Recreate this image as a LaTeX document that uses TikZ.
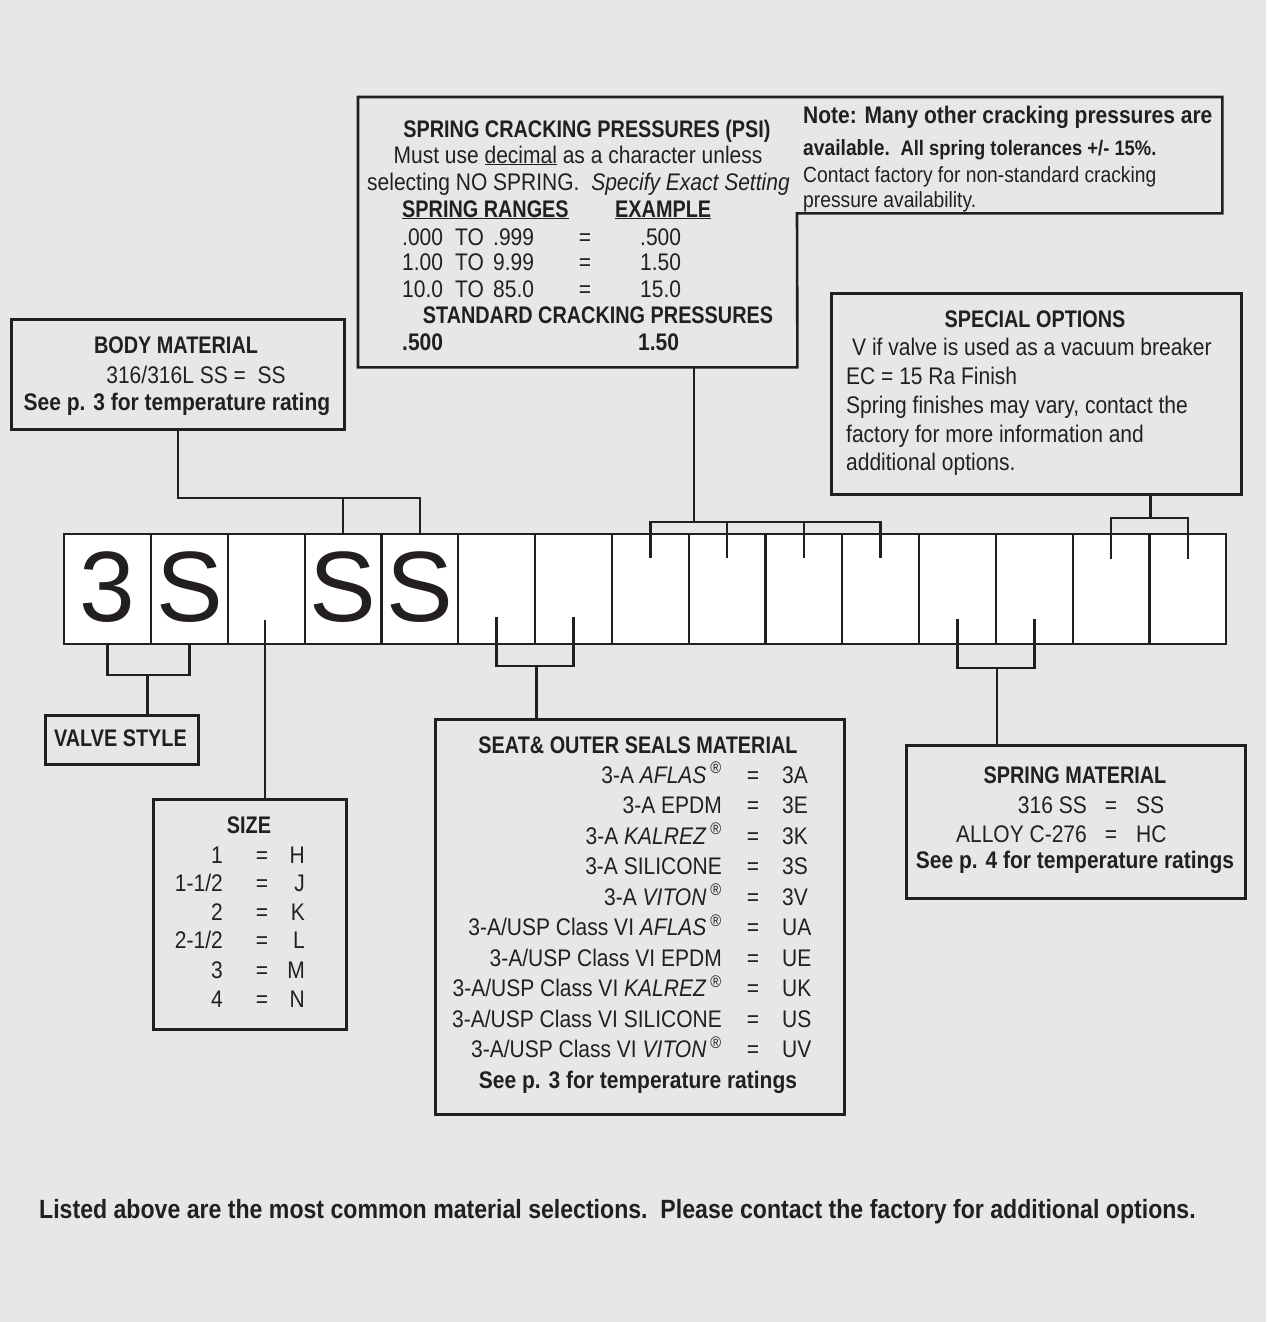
\documentclass[tikz,border=0pt]{standalone}
\usepackage{fontspec}
\setmainfont{Liberation Sans}[FakeStretch=0.875]
\newfontfamily\bigfont{Liberation Sans}
\newfontfamily\capfont{Liberation Sans}[FakeStretch=0.827]
\definecolor{bg}{HTML}{E6E7E8}
\definecolor{ink}{HTML}{231F20}
\begin{document}
\begin{tikzpicture}[x=1pt,y=-1pt,
  box/.style={draw=ink,line width=2.6pt,inner sep=0pt,anchor=north west},
  cell/.style={draw=ink,fill=white,line width=2.2pt,inner sep=0pt,minimum width=76.8pt,minimum height=110pt},
  conn/.style={draw=ink,line width=2.6pt},
  txt/.style={inner sep=0pt,text=ink,font=\fontsize{24}{28}\selectfont},
  btxt/.style={txt,font=\fontsize{24}{28}\selectfont\bfseries},
  ctxt/.style={txt,font=\capfont\fontsize{24}{28}\selectfont\bfseries},
  big/.style={inner sep=0pt,text=ink,anchor=base,font=\bigfont\fontsize{100}{100}\selectfont}]
\fill[bg] (0,0) rectangle (1266,1322);
\useasboundingbox (0,0) rectangle (1266,1322);

% ---------- code cells ----------
\node[cell,minimum width=87pt,anchor=north west] (c1) at (63,533) {};
\foreach \i [evaluate=\i as \x using 150+(\i-2)*76.8] in {2,...,15}
  \node[cell,anchor=north west] (c\i) at (\x,533) {};
\coordinate (lb) at (0,621);
\node[big] (l1) at (c1 |- lb) {3};
\node[big] (l2) at (c2 |- lb) {S};
\node[big] (l4) at (c4 |- lb) {S};
\node[big] (l5) at (c5 |- lb) {S};

% ---------- boxes ----------
\node[box,minimum width=333pt,minimum height=110pt] (body) at (10,318) {};
\node[inner sep=0pt,minimum width=439pt,minimum height=270pt,anchor=north west] (spring) at (358,97) {};
\node[inner sep=0pt,minimum width=425pt,minimum height=116pt,anchor=north west] (note) at (797,97) {};
\draw[conn,line join=miter] (spring.north west) -- (note.north east) -- (note.south east) -- (note.south west) -- (spring.south east) -- (spring.south west) -- cycle;
\node[box,minimum width=410pt,minimum height=201pt] (special) at (830,292) {};
\node[box,minimum width=153pt,minimum height=49pt] (valve) at (44,714) {};
\node[box,minimum width=193pt,minimum height=230pt] (size) at (152,798) {};
\node[box,minimum width=409pt,minimum height=395pt] (seat) at (434,718) {};
\node[box,minimum width=339pt,minimum height=153pt] (smat) at (905,744) {};

% ---------- connectors ----------
% body material
\coordinate (bmbar) at (0,498);
\draw[conn] (body.south) |- (c5 |- bmbar) -- (c5.north);
\draw[conn] (c4 |- bmbar) -- (c4.north);
% valve style
\coordinate (vbar) at (0,675);
\draw[conn] (c1.south) |- (c2 |- vbar) -- (c2.south);
\coordinate (vmid) at (147.5,675);
\draw[conn] (vmid) -- (vmid |- valve.north);
% size
\coordinate (sztop) at (265,620);
\draw[conn] (sztop) -- (sztop |- size.north);
% seat
\coordinate (sl) at (0,617);
\coordinate (sbar) at (0,666);
\draw[conn] (c6 |- sl) |- (c7 |- sbar) -- (c7 |- sl);
\draw[conn] (c6.south east |- sbar) -- (c6.south east |- seat.north);
% spring cracking
\coordinate (spbar) at (694,522);
\coordinate (spl) at (0,558);
\draw[conn] (spbar |- spring.south) -- (spbar);
\draw[conn] (c8 |- spl) |- (c11 |- spbar) -- (c11 |- spl);
\draw[conn] (c9 |- spl) -- (c9 |- spbar);
\draw[conn] (c10 |- spl) -- (c10 |- spbar);
% special options
\coordinate (opbar) at (0,518);
\coordinate (opl) at (0,559);
\draw[conn] (c14.north east |- special.south) -- (c14.north east |- opbar);
\draw[conn] (c14 |- opl) |- (c15 |- opbar) -- (c15 |- opl);
% spring material
\coordinate (ml) at (0,619);
\coordinate (mbar) at (0,668);
\draw[conn] (c12 |- ml) |- (c13 |- mbar) -- (c13 |- ml);
\draw[conn] (c12.south east |- mbar) -- (c12.south east |- smat.north);

% ---------- body material text ----------
\node[ctxt,anchor=base] (bt1) at (176,353) {BODY MATERIAL};
\node[txt,anchor=base] (bt2) at (196,383) {316/316L SS =\ \ SS};
\node[btxt,anchor=base] (bt3) at (177,410) {See p. 3 for temperature rating};

% ---------- spring cracking text ----------
\node[ctxt,anchor=base] (sp1) at (587,137) {SPRING CRACKING PRESSURES (PSI)};
\node[txt,anchor=base] (sp2) at (578,163) {Must use \underline{decimal} as a character unless};
\node[txt,anchor=base west] (sp3) at (367,190) {selecting NO SPRING.\ \ \textit{Specify Exact Setting}};
\node[ctxt,anchor=base west] (sp4) at (402,217) {\underline{SPRING RANGES}};
\node[ctxt,anchor=base west] (sp5) at (615,217) {\underline{EXAMPLE}};
\foreach \a/\b/\v/\y [count=\k] in {.000/.999/.500/245, 1.00/9.99/1.50/270, 10.0/85.0/15.0/297}{
  \node[txt,anchor=base west] (ra\k) at (402,\y) {\a};
  \node[txt,anchor=base west] (rt\k) at (455,\y) {TO};
  \node[txt,anchor=base west] (rb\k) at (493,\y) {\b};
  \node[txt,anchor=base] (re\k) at (585,\y) {=};
  \node[txt,anchor=base west] (rv\k) at (640,\y) {\v};
}
\node[ctxt,anchor=base] (sp6) at (598,323) {STANDARD CRACKING PRESSURES};
\node[btxt,anchor=base west] (sp7) at (402,350) {.500};
\node[btxt,anchor=base west] (sp8) at (638,350) {1.50};

% ---------- note text ----------
\node[btxt,anchor=base west] (n1) at (803,123) {Note: Many other cracking pressures are};
\node[txt,anchor=base west,font=\bfseries] (n2) at (803,155) {\fontsize{22}{26}\selectfont available.\ \ \fontsize{21}{26}\selectfont All spring tolerances +/- 15\%.};
\node[txt,anchor=base west,font=\fontsize{22}{26}\selectfont] (n3) at (803,182) {Contact factory for non-standard cracking};
\node[txt,anchor=base west,font=\fontsize{22}{26}\selectfont] (n4) at (803,207) {pressure availability.};

% ---------- special options text ----------
\node[ctxt,anchor=base] (o1) at (1035,327) {SPECIAL OPTIONS};
\node[txt,anchor=base west] (o2) at (852,355) {V if valve is used as a vacuum breaker};
\node[txt,anchor=base west] (o3) at (846,384) {EC = 15 Ra Finish};
\node[txt,anchor=base west] (o4) at (846,413) {Spring finishes may vary, contact the};
\node[txt,anchor=base west] (o5) at (846,442) {factory for more information and};
\node[txt,anchor=base west] (o6) at (846,470) {additional options.};

% ---------- valve style ----------
\node[ctxt,anchor=base] (v1) at (120.5,746) {VALVE STYLE};

% ---------- size ----------
\node[ctxt,anchor=base] (z0) at (249,833) {SIZE};
\foreach \s/\c/\y [count=\k] in {1/H/863, {1-1/2}/J/891, 2/K/920, {2-1/2}/L/948, 3/M/978, 4/N/1007}{
  \node[txt,anchor=base east] (zs\k) at (223,\y) {\s};
  \node[txt,anchor=base] (ze\k) at (262,\y) {=};
  \node[txt,anchor=base east] (zc\k) at (305,\y) {\c};
}

% ---------- seat ----------
\node[ctxt,anchor=base] (e0) at (638,753) {SEAT\& OUTER SEALS MATERIAL};
\foreach \n/\c/\y [count=\k] in {
  {3-A \textit{AFLAS}\,\textsuperscript{®}}/3A/783,
  {3-A EPDM}/3E/813.5,
  {3-A \textit{KALREZ}\,\textsuperscript{®}}/3K/844,
  {3-A SILICONE}/3S/874.5,
  {3-A \textit{VITON}\,\textsuperscript{®}}/3V/905,
  {3-A/USP Class VI \textit{AFLAS}\,\textsuperscript{®}}/UA/935.5,
  {3-A/USP Class VI EPDM}/UE/966,
  {3-A/USP Class VI \textit{KALREZ}\,\textsuperscript{®}}/UK/996.5,
  {3-A/USP Class VI SILICONE}/US/1027,
  {3-A/USP Class VI \textit{VITON}\,\textsuperscript{®}}/UV/1057.5}{
  \node[txt,anchor=base east] (en\k) at (722,\y) {\n};
  \node[txt,anchor=base] (ee\k) at (753,\y) {=};
  \node[txt,anchor=base west] (ec\k) at (782,\y) {\c};
}
\node[btxt,anchor=base] (e11) at (638,1088) {See p. 3 for temperature ratings};

% ---------- spring material ----------
\node[ctxt,anchor=base] (m0) at (1075,783) {SPRING MATERIAL};
\node[txt,anchor=base east] (m1) at (1087,813) {316 SS};
\node[txt,anchor=base] (m2) at (1111,813) {=};
\node[txt,anchor=base west] (m3) at (1136,813) {SS};
\node[txt,anchor=base east] (m4) at (1087,842) {ALLOY C-276};
\node[txt,anchor=base] (m5) at (1111,842) {=};
\node[txt,anchor=base west] (m6) at (1136,842) {HC};
\node[btxt,anchor=base] (m7) at (1075,868) {See p. 4 for temperature ratings};

% ---------- footer ----------
\node[inner sep=0pt,text=ink,anchor=base west,font=\bfseries\fontsize{26.4}{30}\selectfont] (foot) at (39,1218) {Listed above are the most common material selections.\ \ Please contact the factory for additional options.};
\end{tikzpicture}
\end{document}
